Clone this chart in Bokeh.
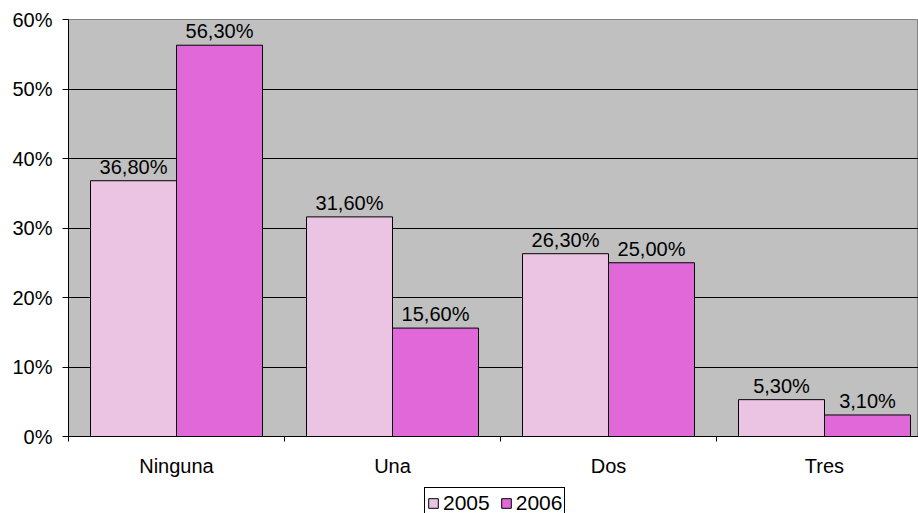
from bokeh.plotting import figure
from bokeh.layouts import column
from bokeh.models import ColumnDataSource, FixedTicker, Legend, LegendItem, LabelSet
from bokeh.core.properties import value
from bokeh.transform import dodge
from bokeh.embed import file_html
from bokeh.resources import INLINE

categories = ["Ninguna", "Una", "Dos", "Tres"]
series_names = ["2005", "2006"]
values_2005 = [36.8, 31.6, 26.3, 5.3]
values_2006 = [56.3, 15.6, 25.0, 3.1]
y_ticks = [0, 10, 20, 30, 40, 50, 60]

COL05 = "#EBC4E4"
COL06 = "#E068D8"

def fmt(v):
    return ("%.2f" % v).replace(".", ",") + "%"

xs = [i + 0.5 for i in range(len(categories))]
src = ColumnDataSource(dict(
    x=xs,
    v05=values_2005, v06=values_2006,
    l05=[fmt(v) for v in values_2005], l06=[fmt(v) for v in values_2006],
))

FONT = "Liberation Sans"
FS = "20px"

p = figure(width=918, height=484, output_backend="svg", toolbar_location=None,
           x_range=(0, 850 / 216), y_range=(0, 60),
           min_border_left=68, min_border_right=0, min_border_top=19, min_border_bottom=48)
p.background_fill_color = "#C0C0C0"
p.border_fill_color = "white"
p.outline_line_color = "#808080"
p.outline_line_width = 1

bw = 86 / 216
r05 = p.vbar(x=dodge("x", -43 / 216, range=p.x_range), top="v05", width=bw, source=src,
             fill_color=COL05, line_color="black", line_width=1)
r06 = p.vbar(x=dodge("x", 43 / 216, range=p.x_range), top="v06", width=bw, source=src,
             fill_color=COL06, line_color="black", line_width=1)

for xoff, col in ((-43 / 216, "05"), (43 / 216, "06")):
    p.add_layout(LabelSet(x=dodge("x", xoff, range=p.x_range), y="v" + col, text="l" + col,
                          source=src, text_align="center", text_baseline="bottom", y_offset=3,
                          text_font=value(FONT), text_font_size=value(FS),
                          text_color="black"))

# axes
p.xaxis.ticker = FixedTicker(ticks=xs, minor_ticks=[0, 1, 2, 3])
p.xaxis.major_label_overrides = {x: c for x, c in zip(xs, categories)}
p.xaxis.major_tick_out = 0
p.xaxis.major_tick_in = 0
p.xaxis.minor_tick_out = 5
p.xaxis.minor_tick_in = 0
p.xaxis.major_label_standoff = 13
p.xaxis.axis_line_color = "black"
p.xaxis.minor_tick_line_color = "black"
p.xaxis.major_label_text_font = FONT
p.xaxis.major_label_text_font_size = FS
p.xaxis.major_label_text_color = "black"

p.yaxis.ticker = FixedTicker(ticks=y_ticks, minor_ticks=[])
p.yaxis.major_label_overrides = {t: "%d%%" % t for t in y_ticks}
p.yaxis.major_tick_out = 6
p.yaxis.major_tick_in = 0
p.yaxis.major_label_standoff = 10
p.yaxis.axis_line_color = "black"
p.yaxis.major_tick_line_color = "black"
p.yaxis.major_label_text_font = FONT
p.yaxis.major_label_text_font_size = FS
p.yaxis.major_label_text_color = "black"

p.xgrid.grid_line_color = None
p.ygrid.ticker = FixedTicker(ticks=y_ticks)
p.ygrid.grid_line_color = "black"
p.ygrid.grid_line_width = 1

# legend in its own strip below the chart
lg = figure(width=918, height=29, output_backend="svg", toolbar_location=None,
            x_range=(0, 1), y_range=(0, 1), min_border=0)
lg.axis.visible = False
lg.grid.visible = False
lg.outline_line_color = None
lg.background_fill_color = "white"
lg.border_fill_color = "white"
d05 = lg.vbar(x=[-5], top=[-5], width=0.1, fill_color=COL05, line_color="black")
d06 = lg.vbar(x=[-5], top=[-5], width=0.1, fill_color=COL06, line_color="black")
legend = Legend(items=[LegendItem(label=series_names[0], renderers=[d05]),
                       LegendItem(label=series_names[1], renderers=[d06])],
                orientation="horizontal", location=(356, -6),
                glyph_width=12, glyph_height=12, label_standoff=4, spacing=10,
                padding=2, margin=0,
                label_text_font=FONT, label_text_font_size="21px", label_text_color="black",
                border_line_color="black", border_line_width=1, border_line_alpha=1,
                background_fill_color="white", background_fill_alpha=1, label_height=26)
lg.add_layout(legend, "center")

layout = column(p, lg, spacing=0)
open("out.html", "w").write(file_html(layout, INLINE))
